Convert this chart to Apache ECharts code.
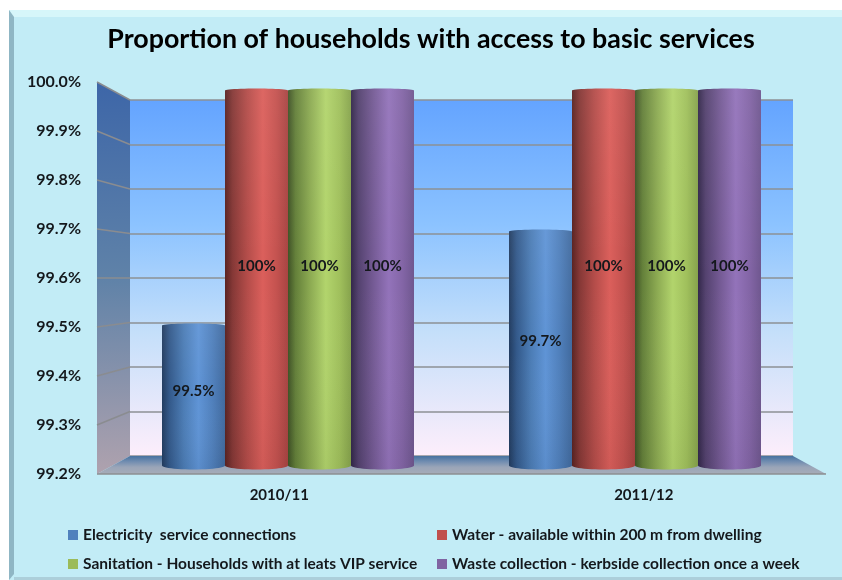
<!DOCTYPE html>
<html>
<head>
<meta charset="utf-8">
<style>html,body{margin:0;padding:0;background:#fff}#chart{width:842px;height:580px}</style>
<script src="https://cdn.jsdelivr.net/npm/echarts@6/dist/echarts.min.js"></script>
</head>
<body>
<div id="chart"></div>
<script>
// Chart values
const categories = ['2010/11', '2011/12'];
const valueTicks = [99.2, 99.3, 99.4, 99.5, 99.6, 99.7, 99.8, 99.9, 100.0];
const electricity = [99.5, 99.7];
const water = [100, 100];
const sanitation = [100, 100];
const wasteCollection = [100, 100];
const seriesNames = [
  'Electricity  service connections',
  'Water - available within 200 m from dwelling',
  'Sanitation - Households with at leats VIP service',
  'Waste collection - kerbside collection once a week'
];

// Layout of the fake 3D box: front plane, back wall, and the plane the cylinders stand on
const front = { left: 97, right: 826, top: 82, bottom: 474 };
const back = { left: 130, right: 793, top: 100, bottom: 456 };
const barPlane = { left: 114.5, right: 808.5, top: 89.5, bottom: 465.5 };
const font = 'Lato';
const ink = '#14181c';

function rectOf(p) {
  return { left: p.left, top: p.top, width: p.right - p.left, height: p.bottom - p.top };
}
function vGrad(stops) { return { type: 'linear', x: 0, y: 0, x2: 0, y2: 1, colorStops: stops.map(s => ({ offset: s[0], color: s[1] })) }; }
function hGrad(stops) { return { type: 'linear', x: 0, y: 0, x2: 1, y2: 0, colorStops: stops.map(s => ({ offset: s[0], color: s[1] })) }; }

// Horizontal shading of each cylinder: dark edge, highlight right of centre
const shades = [
  { base: '#4F81BD', stops: [[0, '#223C60'], [0.12, '#33598A'], [0.35, '#4C7DB6'], [0.58, '#5F94D6'], [0.8, '#5080BC'], [1, '#416A9E']] },
  { base: '#C0504D', stops: [[0, '#5A2322'], [0.12, '#853836'], [0.35, '#B34C49'], [0.6, '#DB5F5B'], [0.82, '#C4524F'], [1, '#A84442']] },
  { base: '#9BBB59', stops: [[0, '#3F5226'], [0.12, '#64803A'], [0.35, '#8CAA52'], [0.6, '#B2D46C'], [0.82, '#A0C05C'], [1, '#86A34C']] },
  { base: '#8064A2', stops: [[0, '#33284A'], [0.12, '#54426F'], [0.35, '#745A94'], [0.6, '#9373BA'], [0.82, '#8365A6'], [1, '#6F578F']] }
];
const barShare = 63 / 347;   // one cylinder's width as a share of the category band
const capTop = 2;
const capBottom = 4;

function cylinder(seriesIndex) {
  return function (params, api) {
    const band = api.size([1, 0])[0];
    const w = band * barShare;
    const centre = api.coord([api.value(0), api.value(1)]);
    const foot = api.coord([api.value(0), valueTicks[0]]);
    const x = centre[0] + (seriesIndex - 2) * w;
    const top = centre[1];
    const bottom = foot[1];
    const cx = x + w / 2;
    const pts = [];
    const steps = 24;
    for (let i = 0; i <= steps; i++) {
      const a = Math.PI * i / steps;
      pts.push([cx - Math.cos(a) * w / 2, top + capTop / 2 - Math.sin(a) * capTop]);
    }
    for (let i = 0; i <= steps; i++) {
      const a = Math.PI * i / steps;
      pts.push([cx + Math.cos(a) * w / 2, bottom + Math.sin(a) * capBottom]);
    }
    const v = api.value(1);
    return {
      type: 'group',
      children: [
        { type: 'polygon', shape: { points: pts }, style: { fill: hGrad(shades[seriesIndex].stops) } },
        { type: 'polygon', shape: { points: pts }, style: { fill: vGrad([[0, 'rgba(255,255,255,0.05)'], [0.5, 'rgba(255,255,255,0)'], [1, 'rgba(0,0,0,0.05)']]) } },
        {
          type: 'text',
          style: {
            x: cx, y: top + (bottom - top) * 0.47,
            text: (Number.isInteger(v) ? v : v.toFixed(1)) + '%',
            fill: ink, font: 'bold 15px ' + font, align: 'center', verticalAlign: 'middle'
          }
        }
      ]
    };
  };
}

// Side wall, floor and the slanted grid lines between the front and back planes
function walls(params, api) {
  const y = api.coord([0, api.value(0)])[1];
  const scale = (back.bottom - back.top) / (front.bottom - front.top);
  const backY = back.top + (y - front.top) * scale;
  const children = [];
  if (params.dataIndex === 0) {
    children.push(
      { type: 'polygon', shape: { points: [[front.left, front.top], [back.left, back.top], [back.left, back.bottom], [front.left, front.bottom]] },
        style: { fill: vGrad([[0, '#3D66A8'], [0.5, '#5F82A8'], [1, '#AFA2AE']]) } },
      { type: 'polygon', shape: { points: [[back.left, back.bottom], [back.right, back.bottom], [front.right, front.bottom], [front.left, front.bottom]] },
        style: { fill: vGrad([[0, '#47729F'], [0.3, '#6F8CB0'], [0.62, '#9AA5B8'], [1, '#A6ACB8']]) } },
      { type: 'line', shape: { x1: front.left, y1: front.bottom, x2: front.right, y2: front.bottom },
        style: { stroke: '#8C8F92', lineWidth: 1.5 } }
    );
  }
  if (params.dataIndex > 0) {
    children.push({ type: 'line', shape: { x1: front.left, y1: y, x2: back.left, y2: backY },
      style: { stroke: '#8A8C90', lineWidth: 1.5 } });
  }
  return { type: 'group', children: children };
}

const seriesValues = [electricity, water, sanitation, wasteCollection];
const legendText = { color: ink, fontFamily: font, fontWeight: 'bold', fontSize: 15.5 };
const chart = echarts.init(document.getElementById('chart'));
chart.setOption({
  animation: false,
  backgroundColor: '#ffffff',
  title: {
    text: 'Proportion of households with access to basic services',
    left: 426, top: 21, textAlign: 'center',
    textStyle: { fontFamily: font, fontWeight: 'bold', fontSize: 26.8, color: '#000' }
  },
  graphic: [
    { type: 'rect', z: -10, shape: { x: 9, y: 10, width: 833, height: 570 }, style: { fill: '#C2ECF6' } },
    { type: 'polygon', z: -9, shape: { points: [[9, 10], [842, 10], [842, 17], [14, 17]] }, style: { fill: '#D6F6FA' } },
    { type: 'polygon', z: -9, shape: { points: [[9, 10], [14, 17], [14, 574], [9, 580]] }, style: { fill: '#8FB6C4' } },
    { type: 'rect', z: -9, shape: { x: 14, y: 577, width: 828, height: 3 }, style: { fill: '#ACCFDA' } }
  ],
  grid: [
    rectOf(front),
    Object.assign({
      show: true, borderWidth: 0,
      backgroundColor: vGrad([[0, '#64A4FF'], [0.35, '#8CC3FF'], [0.65, '#C4DFFA'], [1, '#FDEEFB']])
    }, rectOf(back)),
    rectOf(barPlane)
  ],
  xAxis: [
    {
      type: 'category', gridIndex: 0, data: categories,
      axisLine: { show: false }, axisTick: { show: false },
      axisLabel: { margin: 14, color: ink, fontFamily: font, fontWeight: 'bold', fontSize: 15 }
    },
    { type: 'category', gridIndex: 1, data: categories, show: false },
    { type: 'category', gridIndex: 2, data: categories, show: false }
  ],
  yAxis: [
    {
      type: 'value', gridIndex: 0, min: 99.2, max: 100, interval: 0.1,
      axisLine: { show: false }, axisTick: { show: false }, splitLine: { show: false },
      axisLabel: {
        margin: 16, color: ink, fontFamily: font, fontWeight: 'bold', fontSize: 16,
        formatter: v => v.toFixed(1) + '%'
      }
    },
    {
      type: 'value', gridIndex: 1, min: 99.2, max: 100, interval: 0.1,
      axisLine: { show: false }, axisTick: { show: false }, axisLabel: { show: false },
      splitLine: { show: true, lineStyle: { color: '#8C9095', width: 1.5 } }
    },
    { type: 'value', gridIndex: 2, min: 99.2, max: 100, interval: 0.1, show: false }
  ],
  legend: [
    {
      left: 68, top: 527, padding: 0, orient: 'vertical', itemWidth: 10, itemHeight: 10, itemGap: 13, icon: 'rect',
      data: [seriesNames[0], seriesNames[2]], textStyle: legendText
    },
    {
      left: 437, top: 527, padding: 0, orient: 'vertical', itemWidth: 10, itemHeight: 10, itemGap: 13, icon: 'rect',
      data: [seriesNames[1], seriesNames[3]], textStyle: legendText
    }
  ],
  series: [
    {
      type: 'custom', name: 'walls', xAxisIndex: 0, yAxisIndex: 0, z: 1, silent: true,
      renderItem: walls, encode: { y: 0 }, data: valueTicks.map(v => [v])
    }
  ].concat(seriesValues.map((vals, i) => ({
    type: 'custom',
    name: seriesNames[i],
    xAxisIndex: 2, yAxisIndex: 2, z: 3,
    itemStyle: { color: shades[i].base },
    renderItem: cylinder(i),
    encode: { x: 0, y: 1 },
    data: vals.map((v, c) => [c, v])
  })))
});
</script>
</body>
</html>
